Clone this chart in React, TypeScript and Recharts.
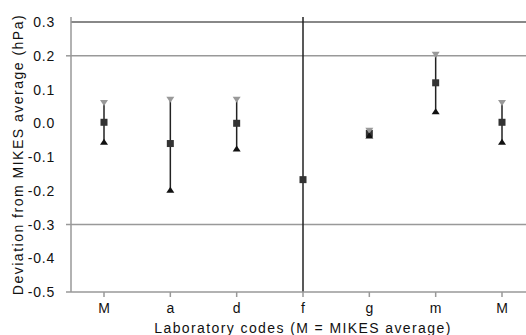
import React from "react";
import { ComposedChart, Scatter, XAxis, YAxis, CartesianGrid, ReferenceLine, ErrorBar } from "recharts";

const codes = ["M", "a", "d", "f", "g", "m", "M"];
const means = [0.003, -0.06, 0.0, -0.167, -0.03, 0.12, 0.003];
const uppers: (number | null)[] = [0.06, 0.07, 0.07, null, -0.022, 0.203, 0.06];
const lowers: (number | null)[] = [-0.055, -0.197, -0.075, null, -0.036, 0.036, -0.055];
// error line extents (f spans beyond the plotted range)
const lineTop = [0.06, 0.07, 0.07, 0.315, -0.022, 0.203, 0.06];
const lineBottom = [-0.055, -0.197, -0.075, -0.5, -0.036, 0.036, -0.055];
const yTicks = [0.3, 0.2, 0.1, 0.0, -0.1, -0.2, -0.3, -0.4, -0.5];
const gridValues = [0.2, -0.3];

const data = codes.map((c, i) => ({
  id: i,
  code: c,
  mean: means[i],
  upper: uppers[i],
  lower: lowers[i],
  err: [means[i] - lineBottom[i], lineTop[i] - means[i]],
}));

const FONT = "'Liberation Sans', Arial, sans-serif";

const Square = (p: any) => {
  if (p.cx == null || p.cy == null) return null;
  return <rect x={p.cx - 3.5} y={p.cy - 3.5} width={7} height={7} fill="#333" />;
};
const DownTri = (p: any) => {
  if (p.payload?.upper == null) return null;
  const { cx, cy } = p;
  return <polygon points={`${cx - 4},${cy - 3} ${cx + 4},${cy - 3} ${cx},${cy + 3}`} fill="#999" />;
};
const UpTri = (p: any) => {
  if (p.payload?.lower == null) return null;
  const { cx, cy } = p;
  return <polygon points={`${cx - 4},${cy + 3} ${cx + 4},${cy + 3} ${cx},${cy - 3}`} fill="#111" />;
};

const YTick = (p: any) => {
  const v = p.payload.value;
  const showLine = v === 0.2 || v === -0.3 || v === -0.5;
  return (
    <g>
      {showLine && <line x1={p.x + 3} x2={p.x + 8} y1={p.y} y2={p.y} stroke="#999" strokeWidth={1.5} />}
      <text x={p.x - 8} y={p.y + 5} textAnchor="end" fontSize={14} letterSpacing={0.8} fill="#111" fontFamily={FONT}>
        {v.toFixed(1)}
      </text>
    </g>
  );
};

export default function App() {
  return (
    <div style={{ position: "absolute", left: 0, top: 0, width: 526, height: 335, overflow: "hidden", background: "#fff" }}>
      <ComposedChart width={540} height={335} data={data} margin={{ top: 17, right: 5, bottom: 0, left: 6 }}>
        <CartesianGrid horizontal={true} vertical={false} horizontalValues={gridValues} stroke="#999" strokeWidth={1.5} />
        <XAxis
          dataKey="id"
          type="category"
          height={43}
          padding={{ left: 33, right: 33 }}
          tickFormatter={(v: any) => codes[v]}
          stroke="#999"
          strokeWidth={1.5}
          tickSize={5}
          tickMargin={6}
          tick={{ fontSize: 14, fill: "#111", fontFamily: FONT }}
          label={{ value: "Laboratory codes (M = MIKES average)", position: "insideBottom", offset: 2, fontSize: 14, letterSpacing: 1.4, fill: "#111", fontFamily: FONT }}
        />
        <YAxis
          type="number"
          domain={[-0.5, 0.3]}
          ticks={yTicks}
          interval={0}
          width={65}
          stroke="#999"
          strokeWidth={1.5}
          tickLine={false}
          tick={<YTick />}
          label={{ value: "Deviation from MIKES average (hPa)", angle: -90, position: "insideLeft", offset: 12, style: { textAnchor: "middle", letterSpacing: 1.5 }, fontSize: 14, fill: "#111", fontFamily: FONT }}
        />
        <ReferenceLine y={0.3} stroke="#888" strokeWidth={2} />
        <Scatter dataKey="mean" shape={<Square />} isAnimationActive={false}>
          <ErrorBar dataKey="err" direction="y" width={0} stroke="#222" strokeWidth={1.5} />
        </Scatter>
        <Scatter dataKey="upper" shape={<DownTri />} isAnimationActive={false} />
        <Scatter dataKey="lower" shape={<UpTri />} isAnimationActive={false} />
      </ComposedChart>
    </div>
  );
}
